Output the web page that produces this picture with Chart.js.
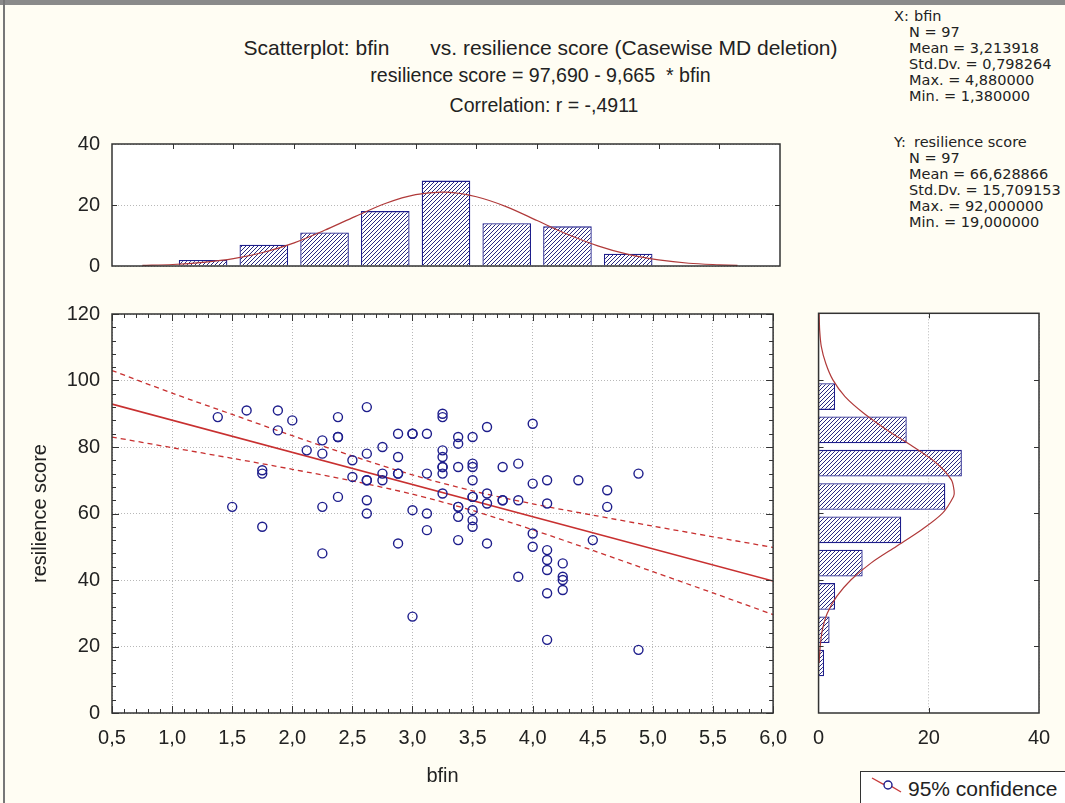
<!DOCTYPE html>
<html>
<head>
<meta charset="utf-8">
<title>Scatterplot: bfin vs. resilience score</title>
<script src="https://cdn.jsdelivr.net/npm/chart.js@4.4.0/dist/chart.umd.min.js"></script>
<style>
  html, body { margin: 0; padding: 0; }
  body {
    width: 1065px; height: 803px; position: relative; overflow: hidden;
    background: #fffdf3; color: #222;
    font-family: "Liberation Sans", Arial, sans-serif;
  }
  canvas { position: absolute; }
  .edge-top { position: absolute; left: 0; top: 0; width: 1065px; height: 5px; background: #8a8a8a; }
  .edge-left { position: absolute; left: 3px; top: 0; width: 2px; height: 803px; background: #777; }
  .title { position: absolute; left: 0; text-align: center; line-height: 24px; white-space: pre; }
  .stats { position: absolute; left: 894px; font-family: "DejaVu Sans", sans-serif; font-size: 14.5px; line-height: 16px; white-space: nowrap; }
  .stats span { display: inline-block; width: 20px; }
  .stats div.i { padding-left: 15px; }
  .legend {
    position: absolute; left: 860px; top: 771px; width: 220px; height: 40px;
    background: #fff; border: 1.5px solid #333; box-sizing: border-box;
  }
  .legend svg { position: absolute; left: 8px; top: 3px; }
  .legend .txt { position: absolute; left: 47px; top: 5px; font-size: 21px; line-height: 24px; }
</style>
</head>
<body>
<div class="edge-top"></div>
<div class="edge-left"></div>

<div class="title" style="top:36px; width:1081px; font-size:21px;">Scatterplot: bfin       vs. resilience score (Casewise MD deletion)</div>
<div class="title" style="top:63px; width:1081px; font-size:19.6px;">resilience score = 97,690 - 9,665  * bfin</div>
<div class="title" style="top:93px; width:1088px; font-size:19.5px;">Correlation: r = -,4911</div>

<div class="stats" style="top:8px;"><div><span>X:</span>bfin</div><div class="i">N = 97</div><div class="i">Mean = 3,213918</div><div class="i">Std.Dv. = 0,798264</div><div class="i">Max. = 4,880000</div><div class="i">Min. = 1,380000</div></div>
<div class="stats" style="top:134px;"><div><span>Y:</span>resilience score</div><div class="i">N = 97</div><div class="i">Mean = 66,628866</div><div class="i">Std.Dv. = 15,709153</div><div class="i">Max. = 92,000000</div><div class="i">Min. = 19,000000</div></div>

<canvas id="topHist" width="800" height="170" style="left:0; top:120px;"></canvas>
<canvas id="scatter" width="800" height="513" style="left:0; top:290px;"></canvas>
<canvas id="sideHist" width="265" height="513" style="left:800px; top:290px;"></canvas>

<div class="legend">
  <svg width="36" height="20" viewBox="0 0 36 20">
    <path d="M3 3 L14 9 L20 10 L32 17" stroke="#c83a3a" stroke-width="1.4" fill="none"/>
    <circle cx="19" cy="10" r="4" stroke="#1e1e8c" stroke-width="1.4" fill="#fff"/>
  </svg>
  <div class="txt">95% confidence</div>
</div>

<script>
// scatter points (bfin, resilience score)
const bfin = [
  1.38, 1.62, 1.88, 2.00, 1.88, 1.75, 1.75, 1.50, 1.75, 2.12,
  2.25, 2.25, 2.38, 2.38, 2.25, 2.38, 2.25, 2.50, 2.50, 2.62,
  2.62, 2.62, 2.62, 2.62, 2.75, 2.75, 2.75, 2.88, 2.88, 2.88,
  2.88, 3.00, 3.00, 3.00, 3.12, 3.12, 3.12, 3.12, 3.25, 3.25,
  3.25, 3.25, 3.25, 3.25, 3.25, 3.38, 3.38, 3.38, 3.38, 3.38,
  3.38, 3.50, 3.50, 3.50, 3.50, 3.50, 3.50, 3.50, 3.50, 3.62,
  3.62, 3.62, 3.62, 3.75, 3.75, 3.88, 3.88, 3.88, 4.00, 4.00,
  4.00, 4.00, 4.12, 4.12, 4.12, 4.12, 4.12, 4.12, 4.12, 4.25,
  4.25, 4.25, 4.25, 4.38, 4.50, 4.62, 4.62, 4.88, 4.88,
  2.38, 2.62, 2.88, 3.00, 3.25, 3.38, 3.50, 3.75
];
const resilience = [
  89, 91, 91, 88, 85, 73, 72, 62, 56, 79,
  82, 78, 89, 83, 62, 65, 48, 76, 71, 92,
  78, 70, 64, 60, 80, 72, 70, 84, 77, 72,
  51, 84, 61, 29, 84, 72, 60, 55, 90, 89,
  79, 77, 74, 72, 66, 83, 81, 74, 62, 59,
  52, 83, 75, 74, 70, 65, 61, 58, 56, 86,
  66, 63, 51, 74, 64, 75, 64, 41, 87, 69,
  54, 50, 70, 63, 49, 46, 43, 36, 22, 45,
  41, 40, 37, 70, 52, 67, 62, 72, 19,
  83, 70, 72, 84, 74, 62, 65, 64
];

// regression line and 95% confidence band
const fitX = [0.5, 6.0];
const fitY = [92.9, 39.7];
const bandX = [0.5, 1.0, 1.5, 2.0, 2.5, 3.0, 3.5, 4.0, 4.5, 5.0, 5.5, 6.0];
const bandUpper = [103, 96.2, 89.8, 83.4, 77.3, 71.6, 66.8, 62.9, 59.5, 56.2, 53.0, 49.8];
const bandLower = [83, 79.8, 76.6, 73.3, 69.8, 65.8, 60.9, 55.1, 48.9, 42.5, 36.1, 29.6];

// histogram of bfin (top)
const topBins = [1.25, 1.75, 2.25, 2.75, 3.25, 3.75, 4.25, 4.75];
const topCounts = [2, 7, 11, 18, 28, 14, 13, 4];
const topCurveX = [0.75, 1.0, 1.25, 1.5, 1.75, 2.0, 2.25, 2.5, 2.75, 3.0, 3.25, 3.5,
                   3.75, 4.0, 4.25, 4.5, 4.75, 5.0, 5.25, 5.5, 5.65];
const topCurveY = [0.2, 0.5, 1.2, 2.4, 4.5, 7.6, 11.7, 16.2, 20.5, 23.4, 24.2, 22.7,
                   19.4, 14.9, 10.4, 6.6, 3.8, 2.0, 0.9, 0.4, 0.2];

// histogram of resilience score (right)
const sideBins = [95, 85, 75, 65, 55, 45, 35, 25, 15];
const sideCounts = [3, 16, 26, 23, 15, 8, 3, 2, 1];
const sideCurveY = [15, 20, 25, 30, 35, 40, 45, 50, 55, 60, 65, 66.6, 70, 75, 80,
                    85, 90, 95, 100, 105, 110, 115, 120];
const sideCurveX = [0.1, 0.3, 0.7, 1.6, 3.3, 5.9, 9.5, 14.1, 18.7, 22.5, 24.5, 24.6, 24.1, 21.4, 17.1,
                    12.4, 8.2, 4.8, 2.6, 1.3, 0.5, 0.2, 0.1];

// tick labels
const xTickValues = [0.5, 1.0, 1.5, 2.0, 2.5, 3.0, 3.5, 4.0, 4.5, 5.0, 5.5, 6.0];
const xTickLabels = ['0,5', '1,0', '1,5', '2,0', '2,5', '3,0', '3,5', '4,0', '4,5', '5,0', '5,5', '6,0'];
const yTickValues = [0, 20, 40, 60, 80, 100, 120];
const yTickLabels = ['0', '20', '40', '60', '80', '100', '120'];
const countTickValues = [0, 20, 40];
const countTickLabels = ['0', '20', '40'];

const NAVY = '#1e1e8c';
const RED = '#c83030';
const CURVE = '#b03a3a';
const GRID = '#b8b8b8';
const TEXT = '#222';
const tickFont = { family: 'Liberation Sans, Arial, sans-serif', size: 20 };

// white plot area, dark frame and the small inner tick marks
const framePlugin = {
    id: 'frame',
    beforeDraw(chart) {
        const a = chart.chartArea, ctx = chart.ctx;
        ctx.save();
        ctx.fillStyle = '#ffffff';
        ctx.fillRect(a.left, a.top, a.right - a.left, a.bottom - a.top);
        ctx.restore();
    },
    afterDraw(chart, args, opts) {
        const a = chart.chartArea, ctx = chart.ctx;
        ctx.save();
        ctx.strokeStyle = '#333';
        ctx.lineWidth = 1;
        (opts.marks || []).forEach(m => {
            const scale = chart.scales[m.axis];
            const n = Math.round((m.to - m.from) / m.step);
            for (let k = 0; k <= n; k++) {
                const v = m.from + k * m.step;
                const p = Math.round(scale.getPixelForValue(v)) + 0.5;
                ctx.beginPath();
                m.sides.forEach(side => {
                    if (side === 'top') { ctx.moveTo(p, a.top); ctx.lineTo(p, a.top + m.len); }
                    if (side === 'bottom') { ctx.moveTo(p, a.bottom); ctx.lineTo(p, a.bottom - m.len); }
                    if (side === 'left') { ctx.moveTo(a.left, p); ctx.lineTo(a.left + m.len, p); }
                    if (side === 'right') { ctx.moveTo(a.right, p); ctx.lineTo(a.right - m.len, p); }
                });
                ctx.stroke();
            }
        });
        ctx.lineWidth = 1.5;
        ctx.strokeRect(a.left, a.top, a.right - a.left, a.bottom - a.top);
        ctx.restore();
    }
};

function hatch(ctx) {
    const c = document.createElement('canvas');
    c.width = 4; c.height = 4;
    const g = c.getContext('2d');
    g.fillStyle = '#ffffff';
    g.fillRect(0, 0, 4, 4);
    g.strokeStyle = '#2a2a80';
    g.lineWidth = 1;
    g.beginPath();
    g.moveTo(0, 4); g.lineTo(4, 0);
    g.moveTo(-1, 1); g.lineTo(1, -1);
    g.moveTo(3, 5); g.lineTo(5, 3);
    g.stroke();
    return ctx.createPattern(c, 'repeat');
}

const common = {
    responsive: false,
    animation: false,
    devicePixelRatio: 1,
    events: []
};

// ---- main scatterplot ----
new Chart(document.getElementById('scatter'), {
    type: 'scatter',
    data: {
        datasets: [{
            data: bfin.map((b, i) => ({ x: b, y: resilience[i] })),
            pointStyle: 'circle',
            pointRadius: 4.5,
            borderColor: NAVY,
            borderWidth: 1.4,
            backgroundColor: 'rgba(0,0,0,0)'
        }, {
            data: fitX.map((x, i) => ({ x: x, y: fitY[i] })),
            showLine: true,
            pointRadius: 0,
            borderColor: RED,
            borderWidth: 1.6
        }, {
            data: bandX.map((x, i) => ({ x: x, y: bandUpper[i] })),
            showLine: true,
            pointRadius: 0,
            borderColor: RED,
            borderWidth: 1.3,
            borderDash: [5, 4],
            tension: 0.3
        }, {
            data: bandX.map((x, i) => ({ x: x, y: bandLower[i] })),
            showLine: true,
            pointRadius: 0,
            borderColor: RED,
            borderWidth: 1.3,
            borderDash: [5, 4],
            tension: 0.3
        }]
    },
    options: {
        ...common,
        layout: { padding: { top: 23.3, right: 19, bottom: 0, left: 0 } },
        plugins: {
            legend: { display: false },
            tooltip: { enabled: false },
            frame: {
                marks: [
                    { axis: 'x', from: 0.5, to: 6.0, step: 0.1, len: 4, sides: ['top', 'bottom'] },
                    { axis: 'x', from: 0.5, to: 6.0, step: 0.5, len: 7, sides: ['top', 'bottom'] },
                    { axis: 'y', from: 0, to: 120, step: 4, len: 4, sides: ['left', 'right'] },
                    { axis: 'y', from: 0, to: 120, step: 20, len: 7, sides: ['left', 'right'] }
                ]
            }
        },
        scales: {
            x: {
                type: 'linear', min: 0.5, max: 6.0,
                afterBuildTicks: s => { s.ticks = xTickValues.map(v => ({ value: v })); },
                afterFit: s => { s.height = 90; },
                ticks: { font: tickFont, color: TEXT, padding: 13, maxRotation: 0,
                         callback: (v, i) => xTickLabels[i] },
                grid: { color: GRID, lineWidth: 1, drawTicks: false },
                border: { display: false, dash: [1, 2] },
                title: { display: true, text: 'bfin', font: tickFont, color: TEXT,
                         padding: { top: 0, bottom: 15 } }
            },
            y: {
                type: 'linear', min: 0, max: 120,
                afterBuildTicks: s => { s.ticks = yTickValues.map(v => ({ value: v })); },
                afterFit: s => { s.width = 112; },
                ticks: { font: tickFont, color: TEXT, padding: 12,
                         callback: (v, i) => yTickLabels[i] },
                grid: { color: GRID, lineWidth: 1, drawTicks: false },
                border: { display: false, dash: [1, 2] },
                title: { display: true, text: 'resilience score', font: tickFont, color: TEXT,
                         padding: { top: 28, bottom: 0 } }
            }
        }
    },
    plugins: [framePlugin]
});

// ---- histogram of bfin ----
const topCanvas = document.getElementById('topHist');
new Chart(topCanvas, {
    type: 'bar',
    data: {
        datasets: [{
            type: 'line',
            data: topCurveX.map((x, i) => ({ x: x, y: topCurveY[i] })),
            borderColor: CURVE,
            borderWidth: 1.2,
            pointRadius: 0,
            tension: 0.3
        }, {
            type: 'bar',
            data: topBins.map((x, i) => ({ x: x, y: topCounts[i] })),
            backgroundColor: hatch(topCanvas.getContext('2d')),
            borderColor: NAVY,
            borderWidth: 1.3,
            barPercentage: 0.8,
            categoryPercentage: 1.0
        }]
    },
    options: {
        ...common,
        layout: { padding: { top: 20, right: 20, bottom: 0, left: 0 } },
        plugins: {
            legend: { display: false },
            tooltip: { enabled: false },
            frame: {
                marks: [
                    { axis: 'x', from: 1.0, to: 5.5, step: 0.5, len: 5, sides: ['top'] },
                    { axis: 'y', from: 20, to: 20, step: 20, len: 5, sides: ['left', 'right'] }
                ]
            }
        },
        scales: {
            x: {
                type: 'linear', min: 0.5, max: 6.0, offset: false,
                afterFit: s => { s.height = 20; },
                ticks: { display: false },
                grid: { display: false },
                border: { display: false }
            },
            y: {
                type: 'linear', min: 0, max: 40,
                afterBuildTicks: s => { s.ticks = countTickValues.map(v => ({ value: v })); },
                afterFit: s => { s.width = 112; },
                ticks: { font: tickFont, color: TEXT, padding: 12,
                         callback: (v, i) => countTickLabels[i] },
                grid: { color: GRID, lineWidth: 1, drawTicks: false },
                border: { display: false, dash: [1, 2] }
            }
        }
    },
    plugins: [framePlugin]
});

// ---- histogram of resilience score ----
const sideCanvas = document.getElementById('sideHist');
new Chart(sideCanvas, {
    type: 'bar',
    data: {
        datasets: [{
            type: 'line',
            data: sideCurveY.map((y, i) => ({ x: sideCurveX[i], y: y })),
            borderColor: CURVE,
            borderWidth: 1.2,
            pointRadius: 0,
            tension: 0.3
        }, {
            type: 'bar',
            data: sideBins.map((y, i) => ({ x: sideCounts[i], y: y })),
            backgroundColor: hatch(sideCanvas.getContext('2d')),
            borderColor: NAVY,
            borderWidth: 1.3,
            barPercentage: 0.8,
            categoryPercentage: 1.0
        }]
    },
    options: {
        ...common,
        indexAxis: 'y',
        layout: { padding: { top: 23.3, right: 26, bottom: 0, left: 0 } },
        plugins: {
            legend: { display: false },
            tooltip: { enabled: false },
            frame: {
                marks: [
                    { axis: 'y', from: 20, to: 100, step: 20, len: 5, sides: ['left', 'right'] },
                    { axis: 'x', from: 20, to: 20, step: 20, len: 5, sides: ['top', 'bottom'] }
                ]
            }
        },
        scales: {
            x: {
                type: 'linear', min: 0, max: 40,
                afterBuildTicks: s => { s.ticks = countTickValues.map(v => ({ value: v })); },
                afterFit: s => { s.height = 90; },
                ticks: { font: tickFont, color: TEXT, padding: 13, maxRotation: 0,
                         callback: (v, i) => countTickLabels[i] },
                grid: { color: GRID, lineWidth: 1, drawTicks: false },
                border: { display: false, dash: [1, 2] }
            },
            y: {
                type: 'linear', min: 0, max: 120, offset: false,
                afterFit: s => { s.width = 18; },
                ticks: { display: false },
                grid: { display: false },
                border: { display: false }
            }
        }
    },
    plugins: [framePlugin]
});
</script>
</body>
</html>
